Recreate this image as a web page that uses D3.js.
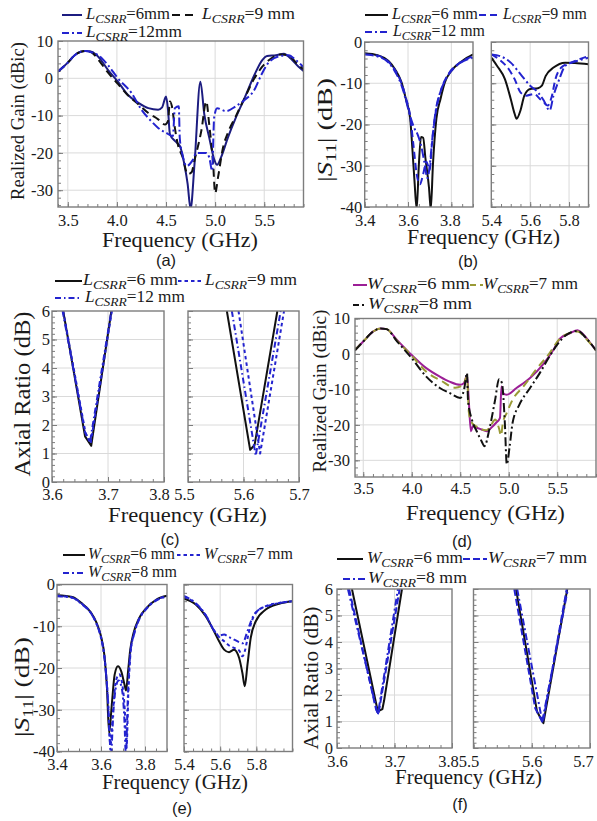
<!DOCTYPE html>
<html>
<head>
<meta charset="utf-8">
<script src="https://cdn.jsdelivr.net/npm/d3@7"></script>
<style>
  html, body { margin: 0; padding: 0; background: #fff; }
  svg { display: block; }
</style>
</head>
<body>
<script>
// ---------- tick values ----------
const gainTicksX = [3.5, 4.0, 4.5, 5.0, 5.5];
const gainTicksY = [10, 0, -10, -20, -30];
const s11TicksY = [0, -10, -20, -30, -40];
const s11LowTicks = [3.4, 3.6, 3.8];
const s11HighTicks = [5.4, 5.6, 5.8];
const arTicksY = [0, 1, 2, 3, 4, 5, 6];
const arLowTicks = [3.6, 3.7, 3.8];
const arHighTicks = [5.5, 5.6, 5.7];

// ---------- legend labels ----------
const legendA = ["=6mm", "=9 mm", "=12mm"];
const legendB = ["=6 mm", "=9 mm", "=12 mm"];
const legendC = ["=6 mm", "=9 mm", "=12 mm"];
const legendW = ["=6 mm", "=7 mm", "=8 mm"];

// ---------- (a) realized gain, L_CSRR = 6 / 9 / 12 mm  [GHz, dBic] ----------
const gainL6 = [[3.40,1.8],[3.45,3.0],[3.50,4.2],[3.57,6.2],[3.63,7.1],[3.68,7.3],[3.74,7.1],[3.81,5.8],[3.91,2.2],[4.01,-0.9],[4.11,-4.4],[4.22,-6.6],[4.32,-8.0],[4.42,-8.4],[4.46,-7.8],[4.50,-4.9],[4.52,-8.4],[4.54,-15],[4.59,-16.8],[4.64,-18.1],[4.69,-23.5],[4.72,-28.3],[4.75,-35],[4.79,-23],[4.85,-0.9],[4.89,-9.7],[4.94,-15.9],[4.99,-21.7],[5.02,-23.2],[5.06,-21.2],[5.13,-15.9],[5.21,-10.6],[5.30,-5.3],[5.40,0.9],[5.48,4.9],[5.53,6.0],[5.62,6.2],[5.70,6.6],[5.77,5.3],[5.85,3.1],[5.90,2.0]];
const gainL9 = [[3.40,1.8],[3.50,4.2],[3.57,6.2],[3.68,7.3],[3.74,7.0],[3.81,5.0],[3.91,1.5],[4.01,-1.5],[4.11,-4.5],[4.22,-7.0],[4.32,-9.3],[4.42,-11.0],[4.49,-12.4],[4.52,-11.5],[4.54,-6.2],[4.56,-7.5],[4.59,-13.3],[4.62,-17.7],[4.67,-21.2],[4.72,-25.7],[4.76,-25.2],[4.79,-22],[4.86,-14],[4.91,-6.2],[4.94,-12.4],[4.98,-23],[5.00,-30.8],[5.03,-26.5],[5.08,-18.6],[5.13,-14.6],[5.21,-10.2],[5.30,-5.3],[5.40,0],[5.48,3.1],[5.57,5.3],[5.67,6.4],[5.74,6.2],[5.85,3.5],[5.90,2.5]];
const gainL12 = [[3.40,1.8],[3.50,4.2],[3.57,6.2],[3.68,7.3],[3.74,7.0],[3.81,6.2],[3.91,3.5],[4.01,0],[4.15,-4],[4.25,-8.4],[4.35,-11.5],[4.42,-13.3],[4.50,-14.6],[4.57,-15.5],[4.59,-8],[4.63,-7.5],[4.64,-16],[4.67,-20.8],[4.71,-23.5],[4.77,-22],[4.81,-20],[4.91,-20],[4.94,-21.2],[4.97,-24.8],[4.99,-10.6],[5.02,-8],[5.11,-8.8],[5.21,-7.5],[5.30,-5.8],[5.40,-3.1],[5.47,0.9],[5.55,4.4],[5.67,6.0],[5.75,6.2],[5.82,4.9],[5.90,3.0]];

// ---------- (b) |S11|, L_CSRR  [GHz, dB] ----------
const s11L6Low = [[3.40,-2.7],[3.46,-3.2],[3.51,-4.6],[3.54,-6.6],[3.57,-9.8],[3.59,-13.8],[3.61,-18.6],[3.62,-25.8],[3.63,-33.8],[3.64,-40.5],[3.65,-29.8],[3.66,-23],[3.67,-23.2],[3.68,-28],[3.697,-35.4],[3.705,-40.5],[3.715,-29.8],[3.731,-18.6],[3.75,-13.8],[3.77,-9.8],[3.80,-7],[3.85,-4.6],[3.90,-3]];
const s11L9Low = [[3.40,-3],[3.46,-3.3],[3.51,-4.8],[3.54,-6.8],[3.57,-10],[3.59,-13.5],[3.61,-18],[3.625,-25],[3.64,-32],[3.655,-34.5],[3.67,-32],[3.685,-29],[3.70,-31],[3.71,-25],[3.725,-18],[3.74,-14],[3.76,-10.5],[3.79,-7.5],[3.84,-5],[3.90,-3.5]];
const s11L12Low = [[3.40,-3],[3.46,-3.5],[3.51,-5],[3.54,-7.2],[3.57,-10.5],[3.59,-14],[3.61,-18],[3.63,-21],[3.645,-22.5],[3.66,-25],[3.675,-29],[3.69,-33],[3.70,-30],[3.715,-22],[3.73,-16],[3.75,-12],[3.78,-8.5],[3.83,-5.5],[3.90,-3.8]];
const s11L6High = [[5.40,-3.8],[5.43,-5.8],[5.47,-9],[5.50,-13.8],[5.52,-17.4],[5.53,-18.6],[5.55,-16.6],[5.57,-13],[5.60,-11.4],[5.64,-11.2],[5.66,-10.6],[5.68,-8.2],[5.72,-6.2],[5.78,-5],[5.83,-5.1],[5.90,-5.4]];
const s11L9High = [[5.40,-3],[5.44,-4.2],[5.49,-6.6],[5.52,-9],[5.55,-12.2],[5.58,-13],[5.62,-12.6],[5.65,-13.8],[5.67,-14.6],[5.69,-15.4],[5.71,-13.4],[5.73,-9],[5.76,-6.2],[5.81,-5],[5.90,-3.4]];
const s11L12High = [[5.40,-3],[5.45,-3.5],[5.50,-5],[5.55,-7.8],[5.60,-10.6],[5.64,-12.2],[5.67,-14.2],[5.70,-16.6],[5.72,-13],[5.75,-9],[5.78,-5.8],[5.84,-4.6],[5.90,-3.8]];

// ---------- (c) axial ratio, L_CSRR  [GHz, dB] ----------
const arL6Low = [[3.620,6],[3.659,1.6],[3.670,1.27],[3.706,6]];
const arL9Low = [[3.620,6],[3.660,1.7],[3.669,1.35],[3.707,6]];
const arL12Low = [[3.619,6],[3.659,1.75],[3.668,1.42],[3.706,6]];
const arL6High = [[5.570,6],[5.612,1.13],[5.620,1.3],[5.661,6]];
const arL9High = [[5.591,6],[5.630,1.0],[5.673,6]];
const arL12High = [[5.579,6],[5.622,0.92],[5.667,6]];

// ---------- (d) realized gain, W_CSRR = 6 / 7 / 8 mm ----------
const gainW6 = [[3.415,1.1],[3.50,3.5],[3.60,6.3],[3.68,7.2],[3.74,7.0],[3.85,3.9],[4.00,-0.3],[4.15,-4],[4.29,-6.4],[4.39,-7.8],[4.50,-8.7],[4.54,-8.2],[4.57,-5.9],[4.585,-11.5],[4.61,-21.8],[4.63,-20.4],[4.67,-20.8],[4.72,-21.3],[4.77,-21.8],[4.82,-20.8],[4.87,-19.4],[4.91,-18],[4.925,-9.2],[4.94,-11],[4.98,-11.5],[5.08,-9.6],[5.22,-6.8],[5.35,-3.1],[5.46,1.1],[5.53,4.4],[5.63,5.8],[5.71,6.7],[5.76,5.8],[5.83,3.5],[5.90,1.1]];
const gainW7 = [[3.415,1.1],[3.50,3.5],[3.60,6.3],[3.68,7.2],[3.74,7.0],[3.85,3.7],[4.00,-0.5],[4.15,-5],[4.30,-7.5],[4.45,-9.5],[4.53,-8.7],[4.57,-6.4],[4.59,-16.6],[4.62,-19.4],[4.67,-20.5],[4.72,-21.3],[4.77,-21.5],[4.82,-20],[4.86,-18.5],[4.90,-21],[4.92,-23],[4.94,-19.4],[4.98,-16.6],[5.04,-12.9],[5.15,-9.2],[5.28,-4.5],[5.42,0.2],[5.53,4.4],[5.62,5.8],[5.71,6.3],[5.80,4.2],[5.90,1]];
const gainW8 = [[3.415,1],[3.50,3.5],[3.60,6.3],[3.68,7.2],[3.74,7.0],[3.85,3.5],[4.00,-1.2],[4.15,-6.4],[4.29,-9.6],[4.39,-11],[4.50,-12.4],[4.54,-10],[4.57,-5.4],[4.58,-12.9],[4.62,-18.5],[4.67,-21.8],[4.72,-24.6],[4.75,-26],[4.80,-21.3],[4.86,-12.9],[4.90,-7.1],[4.93,-8.2],[4.96,-19.4],[4.98,-31.1],[5.01,-26],[5.04,-19.4],[5.11,-14.3],[5.22,-9.6],[5.32,-5.4],[5.42,-0.7],[5.51,3],[5.59,5.3],[5.71,6.5],[5.80,4.4],[5.90,1]];

// ---------- (e) |S11|, W_CSRR ----------
const s11W6Low = [[3.40,-2.6],[3.47,-3],[3.51,-4.4],[3.55,-6.4],[3.58,-9.2],[3.60,-12.4],[3.615,-16.8],[3.627,-24.8],[3.637,-35.6],[3.649,-28.8],[3.662,-21.6],[3.677,-19.6],[3.692,-20.8],[3.707,-24],[3.714,-25.4],[3.723,-20.8],[3.733,-15.6],[3.748,-11.6],[3.77,-8.4],[3.807,-5.6],[3.852,-3.6],[3.90,-2.7]];
const s11W7Low = [[3.40,-2.7],[3.47,-3.1],[3.51,-4.5],[3.55,-6.5],[3.58,-9.4],[3.60,-12.6],[3.615,-17],[3.63,-26],[3.643,-38.5],[3.655,-30],[3.668,-23],[3.683,-21.5],[3.697,-24],[3.708,-30],[3.716,-39],[3.725,-25],[3.735,-16],[3.75,-11.8],[3.77,-8.6],[3.807,-5.7],[3.852,-3.7],[3.90,-2.8]];
const s11W8Low = [[3.40,-2.8],[3.47,-3.2],[3.51,-4.6],[3.55,-6.6],[3.58,-9.5],[3.60,-12.8],[3.615,-17.2],[3.632,-28],[3.645,-40.5],[3.657,-30],[3.668,-24.5],[3.68,-23],[3.695,-25],[3.706,-32],[3.713,-40.5],[3.722,-27],[3.733,-16.5],[3.75,-12],[3.77,-8.8],[3.807,-5.8],[3.852,-3.8],[3.90,-2.9]];
const s11W6High = [[5.40,-3.4],[5.465,-4.8],[5.52,-7.6],[5.566,-11.2],[5.594,-13.6],[5.622,-15.6],[5.649,-16.2],[5.677,-15.6],[5.705,-17.6],[5.723,-21.2],[5.736,-24.4],[5.751,-19.2],[5.769,-12.8],[5.797,-8.8],[5.852,-6],[5.926,-4.6],[6.0,-4]];
const s11W7High = [[5.40,-2.9],[5.465,-4.6],[5.52,-7.4],[5.566,-11],[5.594,-12.6],[5.622,-13.6],[5.649,-14.6],[5.677,-15.2],[5.705,-15.8],[5.723,-17.2],[5.736,-16],[5.751,-13],[5.769,-9.6],[5.797,-6.8],[5.852,-5.2],[5.926,-4.4],[6.0,-4]];
const s11W8High = [[5.40,-2.7],[5.465,-4.5],[5.52,-7.3],[5.566,-11],[5.594,-12.2],[5.622,-12],[5.649,-12.6],[5.677,-13.2],[5.705,-13.8],[5.723,-14.1],[5.751,-11.2],[5.778,-8],[5.815,-6],[5.89,-4.8],[6.0,-4]];

// ---------- (f) axial ratio, W_CSRR ----------
const arW6Low = [[3.626,6],[3.671,1.38],[3.679,1.47],[3.682,1.8],[3.713,6]];
const arW7Low = [[3.621,6],[3.668,1.45],[3.672,1.28],[3.709,6]];
const arW8Low = [[3.619,6],[3.671,1.25],[3.706,6]];
const arW6High = [[5.573,6],[5.609,1.38],[5.620,0.94],[5.661,6]];
const arW7High = [[5.570,6],[5.606,1.5],[5.619,0.95],[5.660,6]];
const arW8High = [[5.575,6],[5.618,1.0],[5.662,6]];

// ---------- styling ----------
const SERIF = "'Liberation Serif', 'Times New Roman', Times, 'DejaVu Serif', serif";
const SANS = "'Liberation Sans', Arial, Helvetica, sans-serif";
const INK = "#1a1a1a", FRAME = "#7d7d7d", GRID = "#dadada";
const NAVY = "#1c1c80", BLUE = "#2323cf", BLACK = "#111111", PURPLE = "#9c1f96", OLIVE = "#9a9a36";
const DASH = "8,5", DASHDOT = "9,3,2,3", SHORTDASH = "3.5,3";

const svg = d3.select("body").append("svg").attr("width", 597).attr("height", 821)
  .style("font-family", SERIF);
svg.append("rect").attr("width", 597).attr("height", 821).attr("fill", "#fff");

let clipCount = 0;
const steps = (a, b, s) => d3.range(Math.round((b - a) / s) + 1).map(i => +(a + i * s).toFixed(4));

function styleAxis(g) {
  g.select(".domain").remove();
  g.attr("font-family", null).attr("font-size", null);
  g.selectAll(".tick line").attr("stroke", FRAME).attr("stroke-width", 1);
  g.selectAll(".tick text").attr("fill", INK)
    .style("font-family", SERIF).style("font-size", "16.5px");
}

function subplot(o) {
  const x = d3.scaleLinear().domain(o.xd).range(o.xr);
  const y = d3.scaleLinear().domain(o.yd).range(o.yr);
  const [L, R] = o.xr, B = o.yr[0], T = o.yr[1];
  const g = svg.append("g");

  // grid
  g.append("g").selectAll("line").data(o.xt.filter(v => x(v) > L + 1 && x(v) < R - 1)).join("line")
    .attr("x1", d => x(d)).attr("x2", d => x(d)).attr("y1", T).attr("y2", B)
    .attr("stroke", GRID).attr("stroke-width", 1);
  g.append("g").selectAll("line").data(o.yt.filter(v => y(v) < B - 1 && y(v) > T + 1)).join("line")
    .attr("y1", d => y(d)).attr("y2", d => y(d)).attr("x1", L).attr("x2", R)
    .attr("stroke", GRID).attr("stroke-width", 1);

  // minor + major ticks (pointing inward)
  g.append("g").attr("transform", `translate(0,${B})`)
    .call(d3.axisBottom(x).tickValues(o.xm.filter(v => v >= o.xd[0] - 1e-6 && v <= o.xd[1] + 1e-6)).tickSize(-3).tickFormat(""))
    .call(styleAxis);
  const xa = g.append("g").attr("transform", `translate(0,${B})`)
    .call(d3.axisBottom(x).tickValues(o.xt).tickSize(-5).tickPadding(o.xBase - B - 0.71 * 16.5).tickFormat(d => d.toFixed(1)))
    .call(styleAxis);
  const labels = xa.selectAll(".tick text");
  if (o.firstShift) labels.filter((d, i) => i === 0).attr("dx", o.firstShift);
  if (o.lastShift) labels.filter((d, i, n) => i === n.length - 1).attr("dx", o.lastShift);
  g.append("g").attr("transform", `translate(${L},0)`)
    .call(d3.axisLeft(y).tickValues(o.ym).tickSize(-3).tickFormat(""))
    .call(styleAxis);
  g.append("g").attr("transform", `translate(${L},0)`)
    .call(d3.axisLeft(y).tickValues(o.yt).tickSize(-5).tickPadding(o.yGap)
      .tickFormat(o.yLabels ? (d => String(d)) : ""))
    .call(styleAxis);

  // curves
  const id = "clip" + (clipCount++);
  svg.append("clipPath").attr("id", id).append("rect")
    .attr("x", L).attr("y", T).attr("width", R - L).attr("height", B - T);
  const cg = g.append("g").attr("clip-path", `url(#${id})`);
  o.series.forEach(s => {
    const line = d3.line().x(d => x(d[0])).y(d => y(d[1])).curve(o.curve || d3.curveMonotoneX);
    cg.append("path").datum(s.data).attr("d", line)
      .attr("fill", "none").attr("stroke", s.color).attr("stroke-width", s.width || 2)
      .attr("stroke-linejoin", "round")
      .attr("stroke-dasharray", s.dash || null);
  });

  // frame
  g.append("rect").attr("x", L).attr("y", T).attr("width", R - L).attr("height", B - T)
    .attr("fill", "none").attr("stroke", FRAME).attr("stroke-width", 1.4);
}

function fitX(t, x0, width) {
  const w = t.node().getComputedTextLength();
  t.attr("transform", `translate(${x0},0) scale(${width / w},1) translate(${-x0},0)`);
}

function legendRow(it) {
  svg.append("line").attr("x1", it.x1).attr("x2", it.x2).attr("y1", it.y).attr("y2", it.y)
    .attr("stroke", it.color).attr("stroke-width", 2).attr("stroke-dasharray", it.dash || null);
  const t = svg.append("text").attr("x", it.tx).attr("y", it.y + 4.5).attr("fill", INK)
    .style("font-family", SERIF).style("font-size", "16px");
  t.append("tspan").style("font-style", "italic").text(it.sym);
  t.append("tspan").style("font-style", "italic").style("font-size", "12.5px").attr("dy", 4).text("CSRR");
  t.append("tspan").attr("dy", -4).text(it.val);
  fitX(t, it.tx, it.tw);
}

function xTitle(cx, base, width) {
  const t = svg.append("text").attr("x", cx).attr("y", base).attr("text-anchor", "middle")
    .attr("fill", INK).style("font-family", SERIF).style("font-size", "22px").text("Frequency (GHz)");
  fitX(t, cx, width);
}

function yTitle(bx, cy, len, fs, build) {
  const t = svg.append("text").attr("text-anchor", "middle").attr("fill", INK)
    .style("font-family", SERIF).style("font-size", fs + "px");
  build(t);
  const w = t.node().getComputedTextLength();
  t.attr("transform", `translate(${bx},${cy}) rotate(-90) scale(${len / w},1)`);
}
const plainTitle = s => t => t.text(s);
const s11Title = t => {
  t.append("tspan").text("|");
  t.append("tspan").style("font-style", "italic").text("S");
  t.append("tspan").attr("dy", 4).style("font-size", "0.68em").text("11");
  t.append("tspan").attr("dy", -4).text("| (dB)");
};

function caption(cx, base, s) {
  svg.append("text").attr("x", cx).attr("y", base).attr("text-anchor", "middle")
    .attr("fill", INK).style("font-family", SANS)
    .style("font-size", "16.5px").text(s);
}

// ================= (a) =================
subplot({
  xr: [58, 303.5], xd: [3.4, 5.9], yr: [207, 41], yd: [-34.5, 10],
  xt: gainTicksX, yt: gainTicksY, xm: steps(3.4, 5.9, 0.1), ym: steps(-34, 10, 2),
  yLabels: true, yGap: 5, xBase: 226,
  series: [
    { data: gainL6, color: NAVY },
    { data: gainL9, color: BLACK, dash: DASH },
    { data: gainL12, color: BLUE, dash: DASHDOT }
  ]
});
legendRow({ x1: 62, x2: 82, y: 15, color: NAVY, tx: 86, tw: 84, sym: "L", val: legendA[0] });
legendRow({ x1: 172, x2: 197, y: 15, color: BLACK, dash: "8,5", tx: 202, tw: 93, sym: "L", val: legendA[1] });
legendRow({ x1: 62, x2: 82, y: 33, color: BLUE, dash: "7,3,2,3", tx: 86, tw: 96, sym: "L", val: legendA[2] });
yTitle(23.5, 121, 158, 19, plainTitle("Realized Gain (dBic)"));
xTitle(180, 247, 156);
caption(166, 266, "(a)");

// ================= (b) =================
subplot({
  xr: [364.7, 473], xd: [3.4, 3.9], yr: [207, 42], yd: [-40, 0],
  xt: s11LowTicks, yt: s11TicksY, xm: steps(3.4, 3.9, 0.05), ym: steps(-40, 0, 2),
  yLabels: true, yGap: 2.5, xBase: 226, lastShift: -1.5,
  series: [
    { data: s11L6Low, color: BLACK },
    { data: s11L9Low, color: BLUE, dash: "7,4" },
    { data: s11L12Low, color: BLUE, dash: DASHDOT }
  ]
});
subplot({
  xr: [491.3, 588.5], xd: [5.4, 5.9], yr: [207, 42], yd: [-40, 0],
  xt: s11HighTicks, yt: s11TicksY, xm: steps(5.4, 5.9, 0.05), ym: steps(-40, 0, 2),
  yLabels: false, yGap: 2.5, xBase: 226,
  series: [
    { data: s11L6High, color: BLACK },
    { data: s11L9High, color: BLUE, dash: "7,4" },
    { data: s11L12High, color: BLUE, dash: DASHDOT }
  ]
});
legendRow({ x1: 365, x2: 388, y: 15, color: BLACK, tx: 392, tw: 86, sym: "L", val: legendB[0] });
legendRow({ x1: 479, x2: 500, y: 15, color: BLUE, dash: "7,4", tx: 503, tw: 84, sym: "L", val: legendB[1] });
legendRow({ x1: 365, x2: 388, y: 32, color: BLUE, dash: "7,3,2,3", tx: 393, tw: 92, sym: "L", val: legendB[2] });
yTitle(331.5, 130, 104, 22, s11Title);
xTitle(483.5, 244, 153);
caption(468, 267, "(b)");

// ================= (c) =================
subplot({
  xr: [52, 164], xd: [3.6, 3.8], yr: [482, 311], yd: [0, 6],
  xt: arLowTicks, yt: arTicksY, xm: steps(3.6, 3.8, 0.02), ym: steps(0, 6, 0.2),
  yLabels: true, yGap: 2, xBase: 500, curve: d3.curveLinear, lastShift: -5,
  series: [
    { data: arL6Low, color: BLACK },
    { data: arL9Low, color: BLUE, dash: SHORTDASH },
    { data: arL12Low, color: BLUE, dash: "6,3,1.5,3" }
  ]
});
subplot({
  xr: [188, 299], xd: [5.5, 5.7], yr: [482, 311], yd: [0, 6],
  xt: arHighTicks, yt: arTicksY, xm: steps(5.5, 5.7, 0.02), ym: steps(0, 6, 0.2),
  yLabels: false, yGap: 2, xBase: 500, curve: d3.curveLinear, firstShift: -4,
  series: [
    { data: arL6High, color: BLACK },
    { data: arL9High, color: BLUE, dash: SHORTDASH },
    { data: arL12High, color: BLUE, dash: "6,3,1.5,3" }
  ]
});
legendRow({ x1: 55, x2: 82, y: 281, color: BLACK, tx: 83, tw: 95, sym: "L", val: legendC[0] });
legendRow({ x1: 178, x2: 203, y: 281, color: BLUE, dash: SHORTDASH, tx: 205, tw: 92, sym: "L", val: legendC[1] });
legendRow({ x1: 55, x2: 82, y: 298, color: BLUE, dash: "6,3,1.5,3", tx: 85, tw: 100, sym: "L", val: legendC[2] });
yTitle(30, 394, 165, 24, plainTitle("Axial Ratio (dB)"));
xTitle(187.5, 522, 159);
caption(170, 545, "(c)");

// ================= (d) =================
subplot({
  xr: [355, 596], xd: [3.415, 5.9], yr: [477, 318.5], yd: [-34.7, 10],
  xt: gainTicksX, yt: gainTicksY, xm: steps(3.5, 5.9, 0.1), ym: steps(-34, 10, 2),
  yLabels: true, yGap: 5, xBase: 494,
  series: [
    { data: gainW6, color: PURPLE },
    { data: gainW7, color: OLIVE, dash: DASH },
    { data: gainW8, color: BLACK, dash: DASHDOT }
  ]
});
legendRow({ x1: 353, x2: 367, y: 285, color: PURPLE, tx: 367, tw: 103, sym: "W", val: legendW[0] });
legendRow({ x1: 470, x2: 483, y: 285, color: OLIVE, dash: "6,4", tx: 483, tw: 95, sym: "W", val: legendW[1] });
legendRow({ x1: 353, x2: 367, y: 305, color: BLACK, dash: "6,3,2,3", tx: 368, tw: 104, sym: "W", val: legendW[2] });
yTitle(326, 391, 163, 19, plainTitle("Realized Gain (dBic)"));
xTitle(485.5, 520, 159);
caption(462, 547, "(d)");

// ================= (e) =================
subplot({
  xr: [57, 167], xd: [3.4, 3.9], yr: [751.5, 584.5], yd: [-40, 0],
  xt: s11LowTicks, yt: s11TicksY, xm: steps(3.4, 3.9, 0.05), ym: steps(-40, 0, 2),
  yLabels: true, yGap: 2, xBase: 770,
  series: [
    { data: s11W6Low, color: BLACK },
    { data: s11W7Low, color: BLUE, dash: SHORTDASH },
    { data: s11W8Low, color: BLUE, dash: "6,3,2,3" }
  ]
});
subplot({
  xr: [184, 292.5], xd: [5.4, 6.0], yr: [751.5, 584.5], yd: [-40, 0],
  xt: s11HighTicks, yt: s11TicksY, xm: steps(5.4, 6.0, 0.05), ym: steps(-40, 0, 2),
  yLabels: false, yGap: 2, xBase: 770,
  series: [
    { data: s11W6High, color: BLACK },
    { data: s11W7High, color: BLUE, dash: SHORTDASH },
    { data: s11W8High, color: BLUE, dash: "6,3,2,3" }
  ]
});
legendRow({ x1: 63, x2: 85, y: 555, color: BLACK, tx: 88, tw: 87, sym: "W", val: legendW[0] });
legendRow({ x1: 177, x2: 202, y: 555, color: BLUE, dash: SHORTDASH, tx: 204, tw: 89, sym: "W", val: legendW[1] });
legendRow({ x1: 63, x2: 85, y: 573, color: BLUE, dash: "6,3,2,3", tx: 88, tw: 89, sym: "W", val: legendW[2] });
yTitle(29, 687, 100, 22, s11Title);
xTitle(175, 789, 146);
caption(182, 814, "(e)");

// ================= (f) =================
subplot({
  xr: [337, 452], xd: [3.6, 3.8], yr: [748, 589], yd: [0, 6],
  xt: arLowTicks, yt: arTicksY, xm: steps(3.6, 3.8, 0.02), ym: steps(0, 6, 0.2),
  yLabels: true, yGap: 4, xBase: 767, curve: d3.curveLinear, lastShift: -4,
  series: [
    { data: arW6Low, color: BLACK },
    { data: arW7Low, color: BLUE, dash: "7,3" },
    { data: arW8Low, color: BLUE, dash: "7,3,2,3" }
  ]
});
subplot({
  xr: [473.5, 590], xd: [5.5, 5.7], yr: [748, 589], yd: [0, 6],
  xt: arHighTicks, yt: arTicksY, xm: steps(5.5, 5.7, 0.02), ym: steps(0, 6, 0.2),
  yLabels: false, yGap: 4, xBase: 767, curve: d3.curveLinear, firstShift: -5, lastShift: -7,
  series: [
    { data: arW6High, color: BLACK },
    { data: arW7High, color: BLUE, dash: "7,3" },
    { data: arW8High, color: BLUE, dash: "7,3,2,3" }
  ]
});
legendRow({ x1: 337, x2: 363, y: 559, color: BLACK, tx: 367, tw: 96, sym: "W", val: legendW[0] });
legendRow({ x1: 463, x2: 487, y: 559, color: BLUE, dash: "7,3", tx: 488, tw: 99, sym: "W", val: legendW[1] });
legendRow({ x1: 343, x2: 367, y: 579, color: BLUE, dash: "7,3,2,3", tx: 368, tw: 99, sym: "W", val: legendW[2] });
yTitle(318, 678, 143, 21, plainTitle("Axial Ratio (dB)"));
xTitle(468.5, 784, 147);
caption(460, 810, "(f)");
</script>
</body>
</html>
